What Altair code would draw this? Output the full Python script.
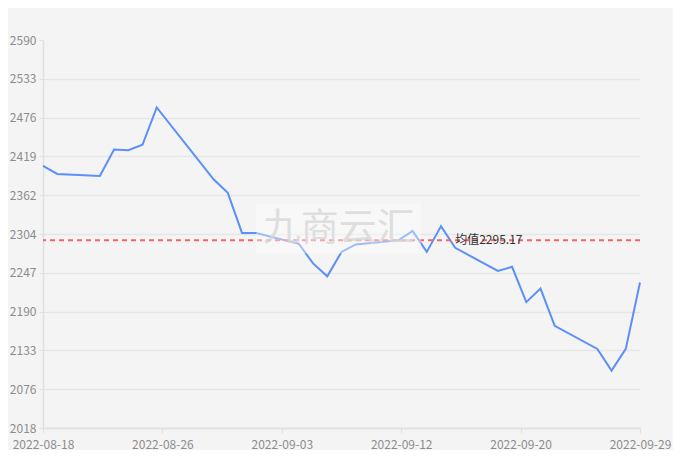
import altair as alt
import pandas as pd

# ---- data ----
DATES = [
    "2022-08-18", "2022-08-19", "2022-08-22", "2022-08-23", "2022-08-24",
    "2022-08-25", "2022-08-26", "2022-08-30", "2022-08-31", "2022-09-01",
    "2022-09-02", "2022-09-05", "2022-09-06", "2022-09-07", "2022-09-08",
    "2022-09-09", "2022-09-12", "2022-09-13", "2022-09-14", "2022-09-15",
    "2022-09-16", "2022-09-19", "2022-09-20", "2022-09-21", "2022-09-22",
    "2022-09-23", "2022-09-26", "2022-09-27", "2022-09-28", "2022-09-29",
]
VALUES = [
    2405, 2393, 2390, 2429, 2428,
    2436, 2491, 2385, 2365, 2306,
    2306, 2290, 2261, 2242, 2278,
    2289, 2295, 2309, 2278, 2316,
    2284, 2250, 2256, 2204, 2224,
    2169, 2135, 2103, 2135, 2233,
]
START_DATE = "2022-08-18"
END_DATE = "2022-09-29"
MEAN_VALUE = [2295.17]
MEAN_LABEL = ["均值2295.17"]
MEAN_LABEL_DATE = ["2022-09-16"]
Y_DOMAIN = [2018.4, 2590.4]
Y_TICKS = [2018.4, 2075.6, 2132.8, 2190.0, 2247.2, 2304.4,
           2361.6, 2418.8, 2476.0, 2533.2, 2590.4]
X_TICK_DAYS = [0, 8.4, 16.8, 25.2, 33.6, 42]
WATERMARK = ["九商云汇"]

FONT = "Noto Sans CJK SC"
start = pd.Timestamp(START_DATE)
total_days = (pd.Timestamp(END_DATE) - start).days

df = pd.DataFrame({
    "date": DATES,
    "day": (pd.to_datetime(DATES) - start).days,
    "value": VALUES,
})
mean_df = pd.DataFrame({
    "mean": MEAN_VALUE,
    "label": MEAN_LABEL,
    "day": (pd.to_datetime(MEAN_LABEL_DATE) - start).days,
})
wm_df = pd.DataFrame({"text": WATERMARK})

x_scale = alt.Scale(domain=[0, total_days], nice=False, zero=False)
y_scale = alt.Scale(domain=Y_DOMAIN, nice=False, zero=False)

label_expr = "utcFormat(utc(2022,7,18) + datum.value*86400000, '%Y-%m-%d')"

x_axis = alt.Axis(
    values=X_TICK_DAYS, labelExpr=label_expr, title=None, grid=False,
    tickCount=len(X_TICK_DAYS) + 2,
    domainColor="#e0e0e0", domainWidth=1.5, tickColor="#e0e0e0", tickSize=5,
    labelPadding=6, labelColor="#8c8c8c", labelFontSize=12, labelFont=FONT,
    labelFlush=False, labelOverlap=False,
)
y_axis = alt.Axis(
    values=Y_TICKS, format=".0f", title=None,
    tickCount=len(Y_TICKS) + 2,
    grid=True,
    gridColor={"condition": {"test": "datum.value > 2580", "value": "transparent"},
               "value": "#e6e6e6"},
    gridWidth=1.5,
    domainColor="#e0e0e0", domainWidth=1.5, tickColor="#e0e0e0", tickSize=4,
    labelPadding=3, labelColor="#8c8c8c", labelFontSize=12, labelFont=FONT,
    labelFlush=False, labelOverlap=False,
)

line = alt.Chart(df).mark_line(color="#5b8ff9", strokeWidth=2).encode(
    x=alt.X("day:Q", scale=x_scale, axis=x_axis),
    y=alt.Y("value:Q", scale=y_scale, axis=y_axis),
)

rule = alt.Chart(mean_df).mark_rule(
    color="#f46464", strokeWidth=2, strokeDash=[5, 4]
).encode(y="mean:Q")

wm_box = alt.Chart(wm_df).mark_rect(fill="white", opacity=0.4).encode(
    x=alt.datum(15.0), x2=alt.datum(26.6),
    y=alt.datum(2275.7), y2=alt.datum(2349.3),
)
wm_text = alt.Chart(wm_df).mark_text(
    font=FONT, fontSize=38, color="#d6d6d6", opacity=0.75,
    align="center", baseline="middle",
).encode(x=alt.datum(20.8), y=alt.datum(2312.5), text="text:N")

mean_text = alt.Chart(mean_df).mark_text(
    font=FONT, fontSize=12, color="#333333", align="left", baseline="middle",
    dx=0,
).encode(x="day:Q", y="mean:Q", text="label:N")

chart = alt.layer(line, rule, wm_box, wm_text, mean_text).properties(
    width=597, height=388,
    padding={"left": 35, "top": 32, "right": 33, "bottom": 22},
    autosize=alt.AutoSizeParams(type="none"),
    background="#f4f4f4",
).configure_view(stroke=None)

chart.save("out.html", embed_options={"renderer": "svg", "actions": False})
